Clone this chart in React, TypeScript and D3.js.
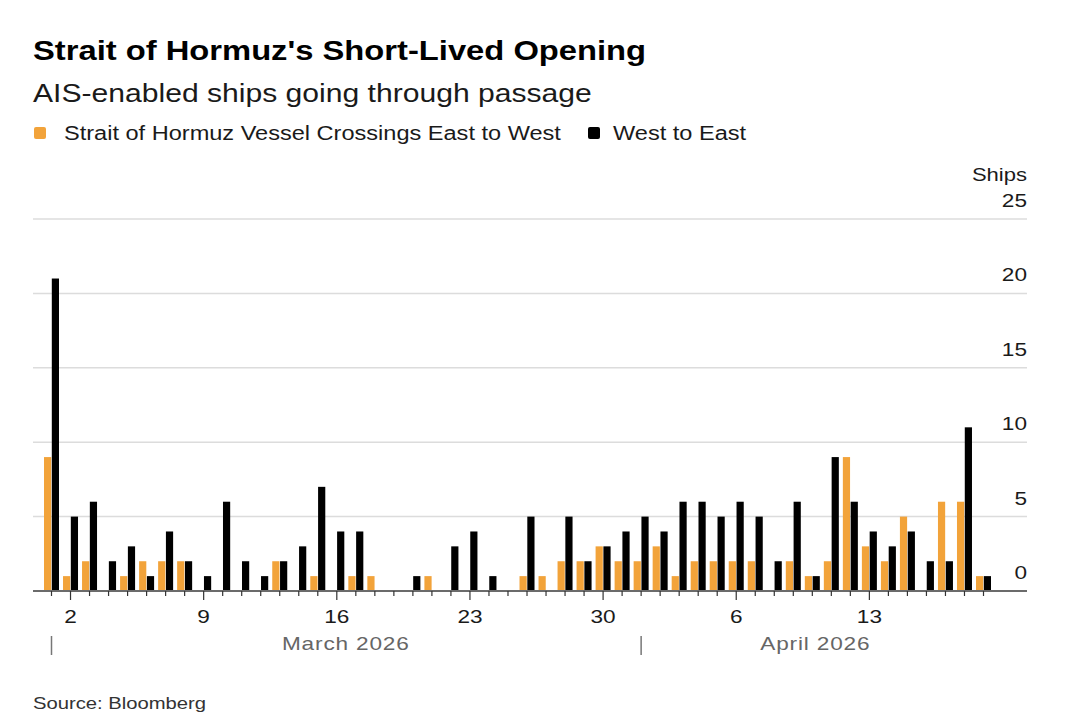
import React from "react";
import * as d3 from "d3";

const dates: string[] = [
  "2026-03-01","2026-03-02","2026-03-03","2026-03-04","2026-03-05","2026-03-06","2026-03-07",
  "2026-03-08","2026-03-09","2026-03-10","2026-03-11","2026-03-12","2026-03-13","2026-03-14",
  "2026-03-15","2026-03-16","2026-03-17","2026-03-18","2026-03-19","2026-03-20","2026-03-21",
  "2026-03-22","2026-03-23","2026-03-24","2026-03-25","2026-03-26","2026-03-27","2026-03-28",
  "2026-03-29","2026-03-30","2026-03-31","2026-04-01","2026-04-02","2026-04-03","2026-04-04",
  "2026-04-05","2026-04-06","2026-04-07","2026-04-08","2026-04-09","2026-04-10","2026-04-11",
  "2026-04-12","2026-04-13","2026-04-14","2026-04-15","2026-04-16","2026-04-17","2026-04-18",
  "2026-04-19",
];

const eastToWest: number[] = [
  9,1,2,0,1,2,2, 2,0,0,0,0,2,0, 1,0,1,1,0,0,1, 0,0,0,0,1,1,2, 2,3,2,2,3,1,2,
  2,2,2,0,2,1,2, 9,3,2,5,0,6,6, 1,
];

const westToEast: number[] = [
  21,5,6,2,3,1,4, 2,1,6,2,1,2,3, 7,4,4,0,0,1,0, 3,4,1,0,5,0,5, 2,3,4,5,4,6,6,
  5,6,5,2,6,1,9, 6,4,3,4,2,2,11, 1,
];

const yTicks: number[] = [0, 5, 10, 15, 20, 25];
const xLabelDates: string[] = ["2026-03-02","2026-03-09","2026-03-16","2026-03-23","2026-03-30","2026-04-06","2026-04-13"];
const months: { label: string; start: string; center: string }[] = [
  { label: "March 2026", start: "2026-03-01", center: "2026-03-16" },
  { label: "April 2026", start: "2026-04-01", center: "2026-04-10" },
];

const ORANGE = "#F2A33A";
const BLACK = "#000000";
const FONT = "'Liberation Sans', Arial, Helvetica, sans-serif";
const SX = 1.19;

type TProps = {
  x: number; y: number; size: number; anchor?: "start" | "middle" | "end";
  weight?: string; fill?: string; ls?: number; children: React.ReactNode;
};
function T({ x, y, size, anchor = "start", weight = "normal", fill = "#1a1a1a", ls = 0, children }: TProps) {
  return (
    <text transform={`translate(${x},${y}) scale(${SX},1)`} fontSize={size} fontWeight={weight}
      textAnchor={anchor} fill={fill} letterSpacing={ls}>{children}</text>
  );
}

export default function App() {
  const W = 1086, H = 724;
  const left = 33, right = 1027;
  const parse = d3.utcParse("%Y-%m-%d");
  const parsed = dates.map((d) => parse(d) as Date);

  const x = d3.scaleUtc()
    .domain([parse("2026-03-01") as Date, parse("2026-04-19") as Date])
    .range([51.5, 983.5]);
  const y = d3.scaleLinear().domain([0, 25]).range([591, 219]);

  const barW = 7.2;
  const labelSet = new Set(xLabelDates);

  return (
    <svg width={W} height={H} viewBox={`0 0 ${W} ${H}`} style={{ position: "absolute", left: 0, top: 0, background: "#fff" }} fontFamily={FONT}>
      <rect x={0} y={0} width={W} height={H} fill="#fff" />
      <T x={33} y={60} size={27.5} weight="bold" fill="#000">Strait of Hormuz's Short-Lived Opening</T>
      <T x={33} y={102} size={25.3}>AIS-enabled ships going through passage</T>

      <rect x={34} y={127} width={12} height={12} rx={2} fill={ORANGE} />
      <T x={64} y={140} size={19.8}>Strait of Hormuz Vessel Crossings East to West</T>
      <rect x={588} y={127} width={12} height={12} rx={2} fill={BLACK} />
      <T x={613} y={140} size={19.8}>West to East</T>

      <T x={right} y={181} size={18.5} anchor="end">Ships</T>

      {yTicks.map((t) => (
        <g key={t}>
          {t > 0 && <line x1={left} x2={right} y1={y(t)} y2={y(t)} stroke="#dcdcdc" strokeWidth={1.5} />}
          <T x={right} y={y(t) - 12} size={19} anchor="end">{t}</T>
        </g>
      ))}

      {parsed.map((d, i) => (
        <g key={dates[i]}>
          {eastToWest[i] > 0 && (
            <rect x={x(d) - barW - 0.3} y={y(eastToWest[i])} width={barW} height={y(0) - y(eastToWest[i])} fill={ORANGE} />
          )}
          {westToEast[i] > 0 && (
            <rect x={x(d) + 0.3} y={y(westToEast[i])} width={barW} height={y(0) - y(westToEast[i])} fill={BLACK} />
          )}
        </g>
      ))}

      <line x1={left} x2={right} y1={y(0)} y2={y(0)} stroke="#6b6b6b" strokeWidth={2} />

      {parsed.map((d, i) => {
        const major = labelSet.has(dates[i]);
        return (
          <line key={"t" + i} x1={x(d)} x2={x(d)} y1={y(0)} y2={y(0) + (major ? 9 : 5)} stroke="#333" strokeWidth={1.2} />
        );
      })}

      {xLabelDates.map((s) => {
        const d = parse(s) as Date;
        return (
          <T key={s} x={x(d)} y={623} size={19} anchor="middle">{d3.utcFormat("%-d")(d)}</T>
        );
      })}

      {months.map((m) => {
        const s = parse(m.start) as Date;
        const c = parse(m.center) as Date;
        return (
          <g key={m.label}>
            <line x1={x(s)} x2={x(s)} y1={636} y2={655} stroke="#777" strokeWidth={1.5} />
            <T x={x(c) + (m.label.startsWith("April") ? 3 : 9)} y={650} size={19} anchor="middle" fill="#666" ls={0.7}>{m.label}</T>
          </g>
        );
      })}

      <T x={33} y={709} size={17} fill="#333">Source: Bloomberg</T>
    </svg>
  );
}
